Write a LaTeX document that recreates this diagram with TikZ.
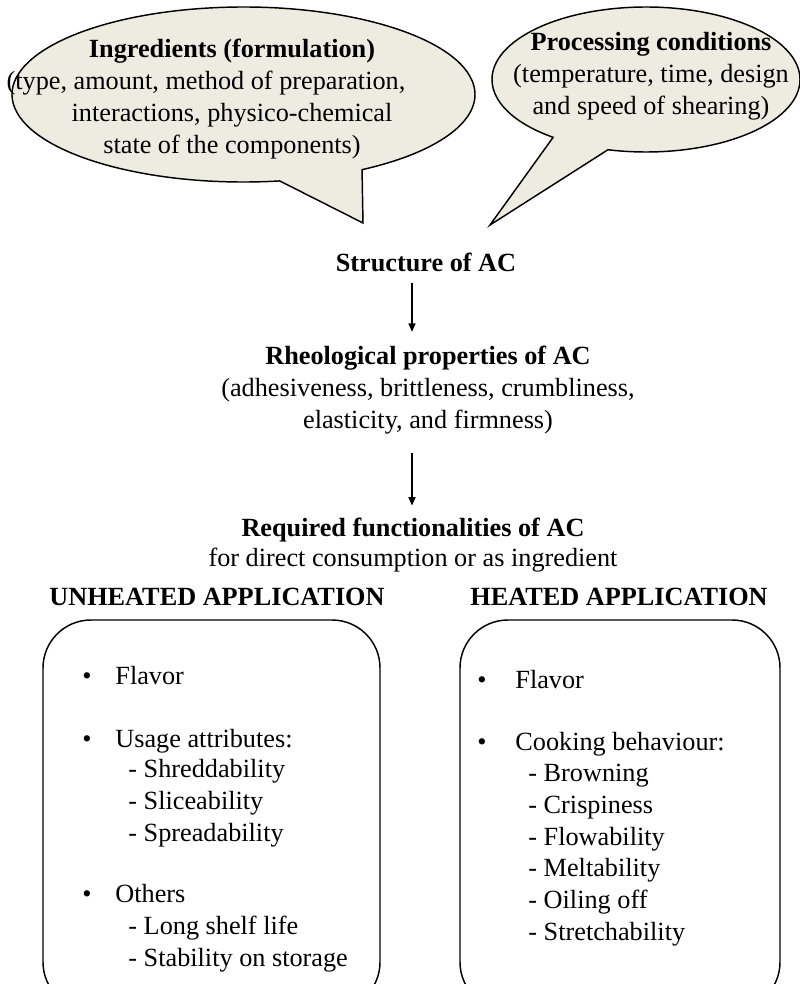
\documentclass[tikz,border=0pt]{standalone}
\usepackage{fontspec}
\setmainfont{Liberation Serif}
\usepackage{xcolor}
\usetikzlibrary{arrows.meta, calc}
\definecolor{bubblefill}{HTML}{EEECE1}

\begin{document}
\begin{tikzpicture}[x=0.48pt, y=-0.48pt, >={Triangle[length=4pt, width=3.4pt]},
  every node/.style={font=\fontsize{12.6}{15.2}\selectfont, inner sep=0pt},
  bubble/.style={draw, line width=0.7pt, fill=bubblefill},
  panel/.style={draw, line width=0.7pt, rounded corners=23pt},
  title/.style={anchor=base, align=center},
  entry/.style={anchor=base west, align=left},
  dot/.style={anchor=base},
  flow/.style={->, line width=0.6pt}]
  \useasboundingbox (0,0) rectangle (800,984);
  \clip (0,0) rectangle (800,984);

  \draw[bubble] (363,223) -- ($(243.5,94.5)+(81:231.5 and 87.5)$) arc[start angle=81, end angle=419.2, x radius=231.5, y radius=87.5] -- cycle;
  \draw[bubble] (490,225) -- ($(646,79.5)+(127.1:154 and 72.5)$) arc[start angle=127.1, end angle=464.3, x radius=154, y radius=72.5] -- cycle;

  \node[title] (ingredients) at (232,153) {\textbf{Ingredients (formulation)}\\(type, amount, method of preparation,\kern25pt\null\\interactions, physico-chemical\\state of the components)};
  \node[title] (processing) at (651,114) {\textbf{Processing conditions}\\(temperature, time, design\\and speed of shearing)};

  \coordinate (axis) at (412,0);
  \node[title] (structure) at (426,271) {\textbf{Structure of AC}};
  \node[title] (rheology) at (428,428) {\textbf{Rheological properties of AC}\\(adhesiveness, brittleness, crumbliness,\\elasticity, and firmness)};
  \node[title] (functions) at (413,566) {\textbf{Required functionalities of AC}\\[-1pt]for direct consumption or as ingredient};

  \draw[flow] ($(structure.south -| axis)+(0,11)$) -- ($(rheology.north -| axis)+(0,-14)$);
  \draw[flow] ($(rheology.south -| axis)+(0,19)$) -- ($(functions.north -| axis)+(0,-12)$);

  \node[title] (unheated) at (217,605) {\textbf{UNHEATED APPLICATION}};
  \node[title] (heated) at (619,605) {\textbf{HEATED APPLICATION}};

  \draw[panel] (43,620) rectangle (380,1010);
  \draw[panel] (460,620) rectangle (780,1010);

  \node[dot] (ub1) at (87,684) {\textbullet};
  \node[entry] (uflavor) at (115,684) {Flavor};
  \node[dot] (ub2) at (87,747) {\textbullet};
  \node[entry] (uusage) at (115,747) {Usage attributes:};
  \node[entry] (uusagelist) at (128,841) {- Shreddability\\- Sliceability\\- Spreadability};
  \node[dot] (ub3) at (87,902) {\textbullet};
  \node[entry] (uothers) at (115,902) {Others};
  \node[entry] (uotherslist) at (128,966) {- Long shelf life\\- Stability on storage};

  \node[dot] (hb1) at (482,688) {\textbullet};
  \node[entry] (hflavor) at (515,688) {Flavor};
  \node[dot] (hb2) at (482,750) {\textbullet};
  \node[entry] (hcooking) at (515,750) {Cooking behaviour:};
  \node[entry] (hcookinglist) at (528,940) {- Browning\\- Crispiness\\- Flowability\\- Meltability\\- Oiling off\\- Stretchability};
\end{tikzpicture}
\end{document}
